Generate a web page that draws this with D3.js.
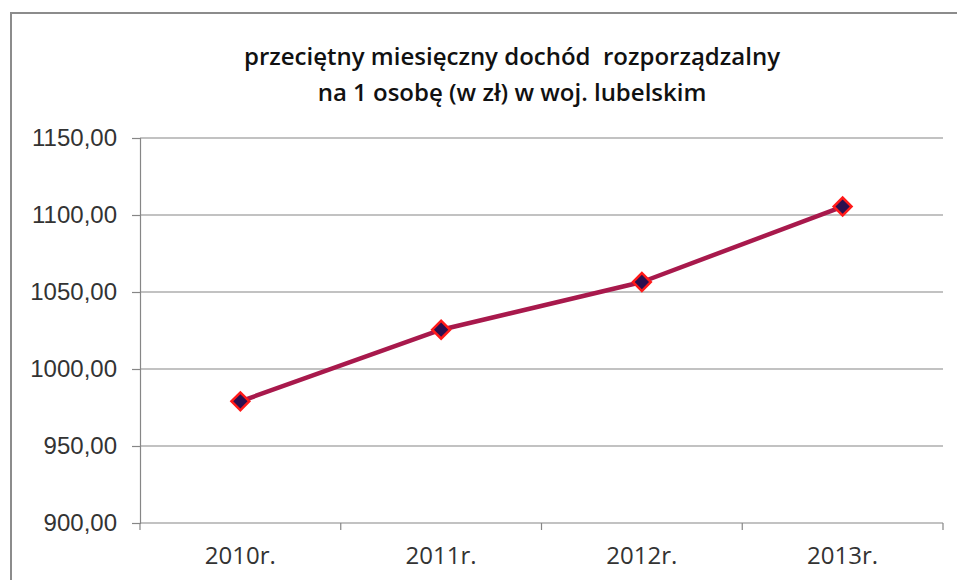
<!DOCTYPE html>
<html>
<head>
<meta charset="utf-8">
<script src="https://cdn.jsdelivr.net/npm/d3@7"></script>
<style>
  body { margin: 0; background: #fff; }
  svg { display: block; font-family: "Open Sans", "Noto Sans", sans-serif; }
</style>
</head>
<body>
<div id="chart"></div>
<script>
'use strict';

const years = ["2010r.", "2011r.", "2012r.", "2013r."];
const income = [979.0, 1025.5, 1056.5, 1105.5];
const yTicks = [900, 950, 1000, 1050, 1100, 1150];
const titleLines = ["przeciętny miesięczny dochód  rozporządzalny", "na 1 osobę (w zł) w woj. lubelskim"];

const W = 957, H = 580;
let margin = {top: 138, right: 14, bottom: 57, left: 140},
  width = W - margin.left - margin.right,
  height = H - margin.top - margin.bottom;

let root = d3.select("#chart").append("svg")
  .attr("width", W)
  .attr("height", H);

// outer chart border
root.append("rect")
  .attr("x", 11).attr("y", 13)
  .attr("width", 960).attr("height", 600)
  .attr("fill", "none")
  .attr("stroke", "#8c8c8c")
  .attr("stroke-width", 2);

// title (keeps the double space)
root.append("text")
  .attr("x", 512).attr("y", 65)
  .attr("text-anchor", "middle")
  .style("white-space", "pre")
  .style("font-size", "24px")
  .style("font-weight", "600")
  .style("fill", "#111")
  .selectAll("tspan")
  .data(titleLines)
  .enter().append("tspan")
  .attr("x", 512)
  .attr("dy", (d, i) => i === 0 ? 0 : 36)
  .text(d => d);

let svg = root.append("g")
  .attr("transform", "translate(" + margin.left + "," + margin.top + ")");

let x = d3.scaleBand().domain(years).range([0, width]);
let y = d3.scaleLinear().domain([900, 1150]).range([height, 0]);

// gridlines
svg.append("g")
  .selectAll("line")
  .data(yTicks.slice(1))
  .enter().append("line")
  .attr("x1", 0).attr("x2", width)
  .attr("y1", d => y(d)).attr("y2", d => y(d))
  .attr("stroke", "#868686")
  .attr("stroke-width", 1.2);

// y axis
let yAxis = svg.append("g")
  .call(d3.axisLeft(y).tickValues(yTicks).tickSize(8).tickPadding(15)
    .tickFormat(d => d3.format(".2f")(d).replace(".", ",")));
yAxis.select(".domain").attr("stroke", "#868686").attr("stroke-width", 1.2);
yAxis.selectAll(".tick line").attr("stroke", "#868686").attr("stroke-width", 1.2);
yAxis.selectAll("text").style("font-size", "24px").style("fill", "#333");

// x axis with ticks at band boundaries
let xg = svg.append("g").attr("transform", "translate(0," + height + ")");
xg.append("line")
  .attr("x1", 0).attr("x2", width)
  .attr("stroke", "#868686").attr("stroke-width", 1.2);
xg.selectAll(".bt")
  .data(years.concat(["end"]))
  .enter().append("line")
  .attr("x1", (d, i) => i < years.length ? x(d) : width)
  .attr("x2", (d, i) => i < years.length ? x(d) : width)
  .attr("y1", 0).attr("y2", 7)
  .attr("stroke", "#868686").attr("stroke-width", 1.2);
xg.selectAll("text")
  .data(years)
  .enter().append("text")
  .attr("x", d => x(d) + x.bandwidth() / 2)
  .attr("y", 41)
  .attr("text-anchor", "middle")
  .style("font-size", "24px")
  .style("fill", "#333")
  .text(d => d);

// line
let line = d3.line()
  .x((d, i) => x(years[i]) + x.bandwidth() / 2)
  .y(d => y(d));

svg.append("path")
  .datum(income)
  .attr("d", line)
  .attr("fill", "none")
  .attr("stroke", "#a8194c")
  .attr("stroke-width", 4.5)
  .attr("stroke-linejoin", "round");

// diamond markers
svg.selectAll(".marker")
  .data(income)
  .enter().append("path")
  .attr("class", "marker")
  .attr("transform", (d, i) => "translate(" + (x(years[i]) + x.bandwidth() / 2) + "," + y(d) + ") rotate(45)")
  .attr("d", "M-6.3,-6.3H6.3V6.3H-6.3Z")
  .attr("fill", "#2b0f4f")
  .attr("stroke", "#ff1a1a")
  .attr("stroke-width", 2.5);
</script>
</body>
</html>
